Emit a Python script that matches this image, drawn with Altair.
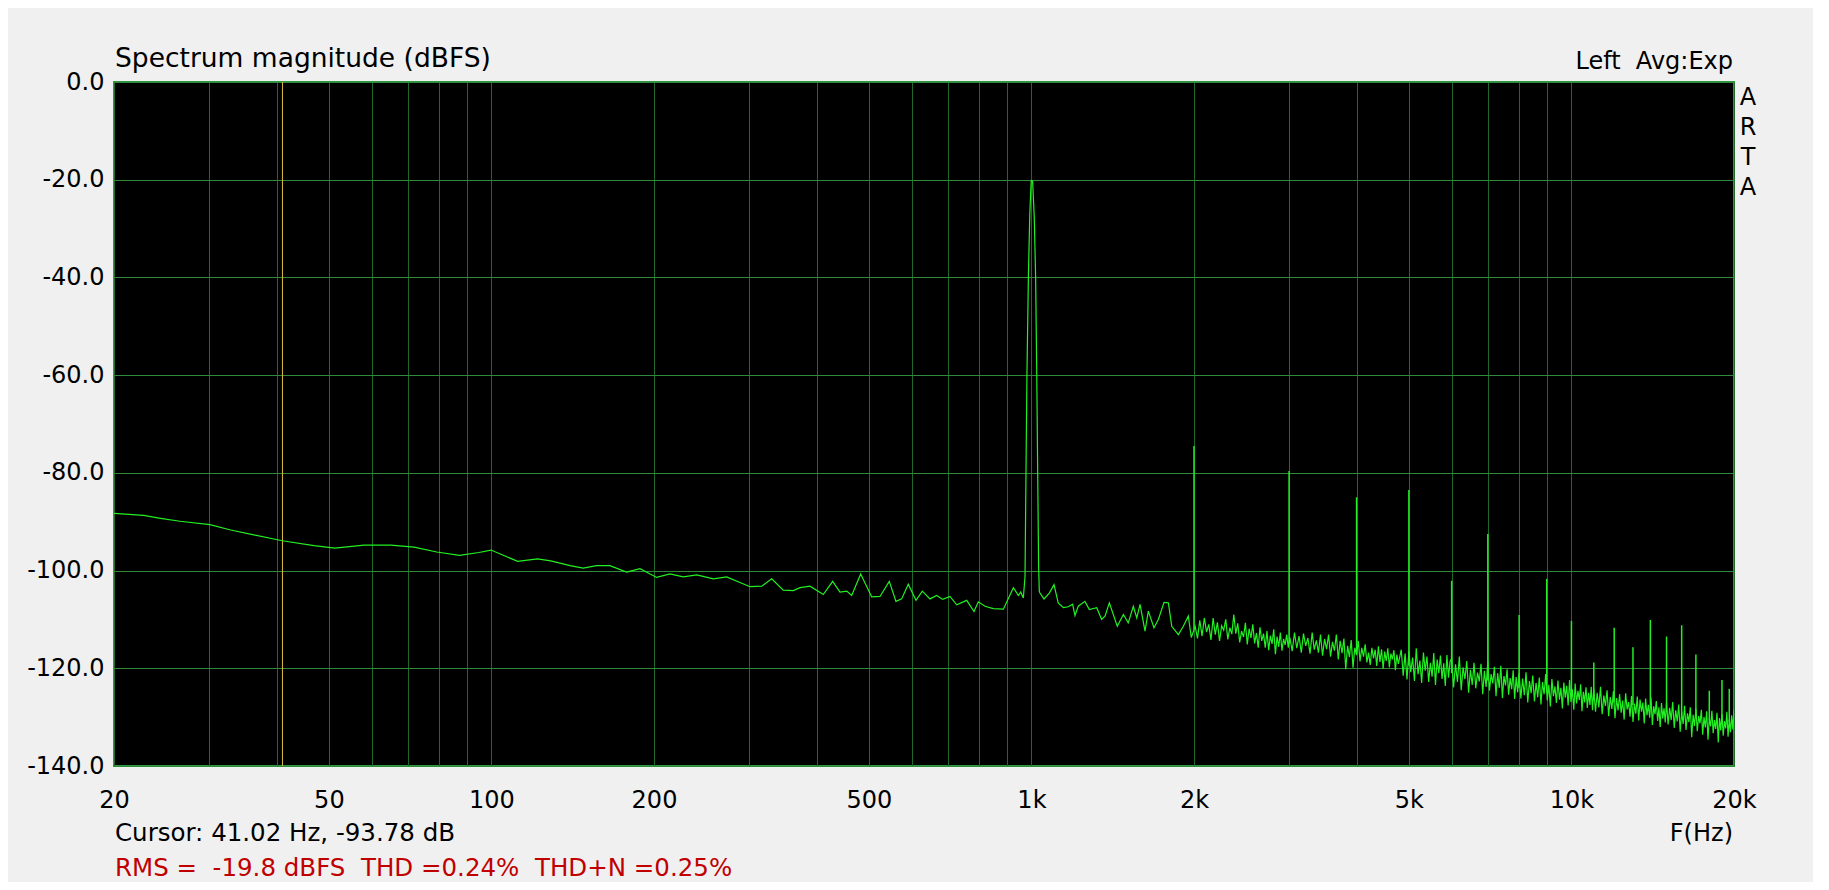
import altair as alt
import pandas as pd

# ---------------- data ----------------
# smooth low-frequency part of the spectrum (Hz, dBFS)
low_freq = [20, 22.7, 24.4, 26.5, 30.1, 32.9, 36.3, 41.0, 46.9, 51.3, 58.1, 65.1,
            71.9, 79.2, 87.3, 94.8, 99.8, 111.8, 121.7, 128.8]
low_db = [-88.3, -88.7, -89.3, -89.9, -90.6, -91.7, -92.7, -93.9, -94.9, -95.4, -94.8,
          -94.8, -95.2, -96.2, -96.9, -96.3, -95.8, -98.1, -97.6, -98.0]

# 140 Hz .. 1 kHz
mid_freq = [139.8, 147.9, 156.6, 165.7, 178.0, 188.4, 202.3, 214.1, 226.6, 240.0,
            257.6, 272.6, 301.2, 316.6, 330.4, 347.0, 362.2, 372.8, 389.0, 411.6,
            428.4, 442.0, 455.0, 464.6, 482.8, 506.0, 524.2, 545.4, 561.2, 575.0,
            591.4, 611.2, 628.0, 648.8, 667.6, 684.8, 706.4, 727.2, 758.8, 782.8,
            797.2, 820.4, 849.8, 887.2, 925.8, 945.6, 955.4, 966.0]
mid_db = [-99.0, -99.5, -99.0, -99.0, -100.3, -99.6, -101.4, -100.7, -101.3, -100.9,
          -101.7, -101.3, -103.3, -103.2, -101.7, -104.0, -104.1, -103.5, -103.2, -104.9,
          -102.2, -104.4, -104.2, -105.1, -100.7, -105.4, -105.3, -102.2, -106.3, -105.8,
          -102.8, -106.1, -104.2, -105.8, -105.1, -105.9, -105.3, -107.0, -106.1, -108.4,
          -106.4, -107.3, -107.8, -107.9, -103.5, -105.1, -104.4, -105.6]

# 1 kHz test tone
fund_freq = [973, 977, 981, 987, 993, 999, 1005, 1012, 1018, 1023, 1027, 1031, 1034, 1037]
fund_db = [-101.2, -80.0, -60.0, -40.0, -27.0, -20.2, -20.3, -27.6, -40.0, -60.0,
           -80.0, -98.9, -104.2, -104.6]

# noise floor 1 kHz .. 2 kHz
hf1_freq = [1055, 1079, 1101, 1121, 1146, 1170, 1192, 1204, 1221, 1256,
            1280, 1321, 1349, 1369, 1394, 1442, 1480, 1511, 1544, 1567,
            1589, 1623, 1646, 1686, 1718, 1760, 1793, 1819, 1871, 1911,
            1952, 1977]
hf1_db = [-105.8, -104.6, -102.9, -106.6, -107.6, -107.4, -106.9, -109.2, -107.3, -106.3,
          -108.0, -107.6, -110.0, -109.3, -106.6, -111.4, -109.0, -110.7, -107.3, -109.7,
          -106.9, -112.4, -108.3, -111.7, -110.0, -106.5, -106.6, -111.4, -113.1, -111.4,
          -109.3, -113.7]

# noise floor 2 kHz .. 4.8 kHz
hfm_freq = [
    2010, 2030, 2050, 2070, 2090, 2110, 2130, 2150, 2170, 2190, 2210, 2230, 2250, 2270,
    2290, 2310, 2330, 2350, 2370, 2390, 2410, 2430, 2450, 2470, 2490, 2510, 2530, 2550,
    2570, 2590, 2610, 2630, 2650, 2670, 2690, 2710, 2730, 2750, 2770, 2790, 2810, 2830,
    2850, 2870, 2890, 2910, 2930, 2950, 2970, 2990,
    3010, 3040, 3070, 3100, 3130, 3160, 3190, 3220, 3250, 3280, 3310, 3340, 3370, 3400,
    3430, 3460, 3490, 3520, 3550, 3580, 3610, 3640, 3670, 3700, 3730, 3760, 3790, 3820,
    3850, 3880, 3910, 3940, 3970, 4000, 4030, 4060, 4090, 4120, 4150, 4180, 4210, 4240,
    4270, 4300, 4330, 4360, 4390, 4420, 4450, 4480, 4510, 4540, 4570, 4600, 4630, 4660,
    4690, 4720, 4750, 4780]
hfm_db = [
    -111.4, -113.9, -110.2, -113.4, -109.7, -112.6, -111.0, -114.2, -109.7, -113.1,
    -110.6, -114.4, -111.3, -112.2, -110.0, -114.1, -111.7, -113.0, -109.0, -112.9,
    -110.8, -114.7, -112.4, -113.6, -110.7, -115.1, -111.9, -113.8, -111.0, -114.9,
    -112.8, -115.8, -111.6, -114.4, -112.9, -115.8, -112.4, -116.3, -113.3, -115.0,
    -112.0, -117.1, -113.5, -115.6, -112.7, -116.4, -114.0, -115.2, -113.1, -115.8,
    -113.7, -116.5, -112.7, -115.9, -113.4, -116.8, -112.9, -115.4, -113.8, -117.0,
    -112.7, -116.2, -114.3, -116.8, -113.1, -117.4, -114.0, -116.1, -113.1, -117.6,
    -114.6, -116.4, -113.1, -118.2, -114.4, -116.9, -113.9, -120.2, -115.4, -117.7,
    -114.2, -119.9, -115.8, -117.3, -114.4, -118.6, -115.8, -117.6, -115.1, -118.8,
    -116.8, -119.3, -115.8, -118.0, -116.2, -119.5, -115.5, -118.7, -116.1, -120.1,
    -116.6, -118.5, -115.9, -119.8, -117.0, -118.2, -116.3, -120.4, -117.2, -119.1]

# dense noise floor 4.8 kHz .. 20 kHz
hf2_freq = [
    4840, 4880, 4920, 4960, 5000, 5040, 5080, 5120, 5160, 5200, 5240, 5280, 5320, 5360,
    5400, 5440, 5480, 5520, 5560, 5600, 5640, 5680, 5720, 5760, 5800, 5840, 5880, 5920, 5960,
    6000, 6050, 6100, 6150, 6200, 6250, 6300, 6350, 6400, 6450, 6500, 6550, 6600, 6650,
    6700, 6750, 6800, 6850, 6900, 6950, 7000, 7050, 7100, 7150, 7200, 7250, 7300, 7350,
    7400, 7450, 7500, 7550, 7600, 7650, 7700, 7750, 7800, 7850, 7900, 7950,
    8000, 8060, 8120, 8180, 8240, 8300, 8360, 8420, 8480, 8540, 8600, 8660, 8720, 8780,
    8840, 8900, 8960, 9020, 9080, 9140, 9200, 9260, 9320, 9380, 9440, 9500, 9560, 9620,
    9680, 9740, 9800, 9860, 9920, 9980, 10040, 10100, 10160, 10220, 10280, 10340, 10400,
    10460, 10520, 10580, 10640, 10700, 10760, 10820, 10880, 10940,
    11000, 11080, 11160, 11240, 11320, 11400, 11480, 11560, 11640, 11720, 11800, 11880,
    11960, 12040, 12120, 12200, 12280, 12360, 12440, 12520, 12600, 12680, 12760, 12840,
    12920, 13000, 13080, 13160, 13240, 13320, 13400, 13480, 13560, 13640, 13720, 13800,
    13880, 13960, 14040, 14120, 14200, 14280, 14360, 14440, 14520, 14600, 14680, 14760,
    14840, 14920,
    15000, 15100, 15200, 15300, 15400, 15500, 15600, 15700, 15800, 15900, 16000, 16100,
    16200, 16300, 16400, 16500, 16600, 16700, 16800, 16900, 17000, 17100, 17200, 17300,
    17400, 17500, 17600, 17700, 17800, 17900, 18000, 18100, 18200, 18300, 18400, 18500,
    18600, 18700, 18800, 18900, 19000, 19100, 19200, 19300, 19400, 19500, 19600, 19700,
    19800, 19900, 20000]
hf2_db = [
    -116.2, -121.5, -117.0, -122.3, -116.5, -120.8, -117.8, -122.6, -115.9, -121.2,
    -118.4, -123.0, -116.8, -120.5, -117.6, -122.8, -118.9, -121.7, -116.9, -123.4,
    -118.2, -121.0, -117.4, -122.2, -119.0, -123.6, -117.3, -121.9, -118.6,
    -118.0, -123.9, -119.2, -122.8, -117.6, -124.5, -119.8, -122.2, -118.5, -125.0,
    -120.3, -123.4, -118.9, -124.1, -120.9, -122.7, -119.1, -125.3, -120.5, -123.8,
    -118.6, -124.6, -121.2, -123.1, -119.7, -125.7, -121.0, -124.0, -119.5, -126.1,
    -121.6, -123.5, -120.2, -125.4, -122.0, -124.3, -120.4, -126.3, -121.8, -124.9,
    -121.0, -126.2, -122.1, -125.5, -120.8, -127.0, -122.6, -125.1, -121.5, -126.8,
    -123.0, -125.9, -121.9, -127.4, -122.8, -125.3, -121.2, -126.6, -123.4, -127.8,
    -122.2, -125.7, -123.7, -127.1, -122.5, -126.4, -124.0, -128.2, -122.9, -126.0,
    -123.6, -127.6, -122.4, -126.9, -124.3, -128.5, -123.1, -127.2, -124.6, -126.5,
    -123.3, -128.8, -124.8, -127.0, -123.9, -128.1, -125.0, -127.5, -123.8, -128.6,
    -124.2, -128.9, -125.0, -128.0, -123.8, -129.4, -125.6, -127.7, -124.5, -129.8,
    -125.9, -128.3, -124.7, -130.2, -126.1, -128.6, -125.3, -129.1, -126.6, -130.5,
    -125.1, -128.4, -126.9, -129.9, -125.7, -131.0, -127.2, -129.3, -125.8, -130.7,
    -126.4, -128.9, -127.0, -131.3, -126.2, -129.6, -127.5, -130.1, -126.0, -131.6,
    -127.8, -129.4, -126.7, -130.8, -128.0, -132.0, -127.1, -130.3, -128.2, -131.1,
    -127.0, -131.5, -128.1, -130.6, -126.9, -132.2, -128.6, -130.9, -127.4, -133.0,
    -128.9, -131.4, -127.7, -132.6, -129.2, -131.0, -128.0, -134.1, -129.5, -131.8,
    -128.3, -132.9, -129.8, -131.3, -128.5, -133.6, -130.0, -132.1, -128.8, -134.6,
    -130.3, -131.9, -128.7, -133.3, -130.6, -132.4, -129.1, -135.2, -130.2, -132.7,
    -129.4, -133.8, -130.8, -132.3, -128.9, -134.0, -130.5, -133.1, -129.6, -132.5,
    -128.4]

# harmonic / spurious spikes
harm_freq = [2000, 3000, 4000, 5000, 6000, 7000, 8000, 9000, 10000, 11000, 12000,
             13000, 14000, 15000, 16000, 17000, 18000, 19000, 19600]
harm_peak = [-74.5, -79.6, -85.0, -83.5, -102.1, -92.5, -109.1, -101.7, -110.3, -118.8,
             -111.7, -115.7, -110.1, -113.5, -111.2, -117.2, -124.6, -122.4, -124.2]
harm_base = [-112.0, -115.0, -117.0, -119.5, -121.0, -122.5, -124.0, -125.0, -125.5,
             -126.5, -127.0, -127.5, -128.0, -129.0, -129.5, -130.0, -130.5, -131.0, -131.0]

cursor_freq = [41.02]

grid_freq = [20, 30, 40, 50, 60, 70, 80, 90, 100, 200, 300, 400, 500, 600, 700, 800, 900,
             1000, 2000, 3000, 4000, 5000, 6000, 7000, 8000, 9000, 10000, 20000]
label_freq = [20, 50, 100, 200, 500, 1000, 2000, 5000, 10000, 20000]
y_ticks = [0, -20, -40, -60, -80, -100, -120, -140]

TITLE = "Spectrum magnitude (dBFS)"
CHANNEL = "Left\u00a0\u00a0Avg:Exp"
BRAND = "A\nR\nT\nA"
CURSOR = "Cursor: 41.02 Hz, -93.78 dB"
FAXIS = "F(Hz)"
STATS = "RMS =\u00a0\u00a0-19.8 dBFS\u00a0\u00a0THD =0.24%\u00a0\u00a0THD+N =0.25%"

# ---------------- tables ----------------
spec = pd.DataFrame({
    "freq": low_freq + mid_freq + fund_freq + hf1_freq + hfm_freq + hf2_freq,
    "db": low_db + mid_db + fund_db + hf1_db + hfm_db + hf2_db,
})
harm = pd.DataFrame({"freq": harm_freq, "db": harm_peak, "base": harm_base})
cur = pd.DataFrame({"freq": cursor_freq})

FONT = "DejaVu Sans"
GREEN = "#22f022"

label_list = ",".join(str(v) for v in label_freq)
x_axis = alt.Axis(
    values=grid_freq, title=None, grid=True, gridColor="#1f6a2b", gridWidth=1,
    ticks=False, domain=False, labelFont=FONT, labelFontSize=24, labelColor="black",
    labelPadding=22, labelFlush=False, labelOverlap=False,
    labelExpr=f"indexof([{label_list}], datum.value) >= 0 ? "
              "(datum.value >= 1000 ? (datum.value / 1000) + 'k' : datum.value + '') : ''",
)
y_axis = alt.Axis(
    values=y_ticks, title=None, grid=True, gridColor="#2e8b3c", gridWidth=1,
    ticks=False, domain=False, labelFont=FONT, labelFontSize=24, labelColor="black",
    labelPadding=10, labelFlush=False, labelOverlap=False,
    labelExpr="datum.value + '.0'",
)
x_scale = alt.Scale(type="log", domain=[20, 20000], nice=False)
y_scale = alt.Scale(domain=[-140, 0], nice=False, zero=False)

X = alt.X("freq:Q", scale=x_scale, axis=x_axis)
Y = alt.Y("db:Q", scale=y_scale, axis=y_axis)

line = alt.Chart(spec).mark_line(color=GREEN, strokeWidth=1.2, clip=True).encode(
    x=X, y=Y, order="freq:Q")
spikes = alt.Chart(harm).mark_rule(color=GREEN, strokeWidth=1.5, clip=True).encode(
    x=X, y=Y, y2="base:Q")
cursor = alt.Chart(cur).mark_rule(color="#d8c040", strokeWidth=1).encode(x=X)


def label(text, x, y, align="left", baseline="alphabetic", size=24, color="black", **kw):
    return alt.Chart(pd.DataFrame({"t": [text]})).mark_text(
        align=align, baseline=baseline, font=FONT, fontSize=size, color=color, **kw
    ).encode(text="t:N", x=alt.value(x), y=alt.value(y))


title = label(TITLE, 1, -15, size=26.5)
channel = label(CHANNEL, 1619, -13, align="right")
brand = label(BRAND, 1634, 4, align="center", baseline="top", lineBreak="\n", lineHeight=30)
cursor_txt = label(CURSOR, 1, 759, size=24.5)
faxis = label(FAXIS, 1619, 759, align="right")
stats = label(STATS, 1, 794, size=24.5, color="#c00000")

chart = alt.layer(cursor, line, spikes, title, channel, brand, cursor_txt, faxis, stats).properties(
    width=1620, height=684,
    padding={"left": 106, "top": 74, "right": 79, "bottom": 116},
    autosize=alt.AutoSizeParams(type="none"),
).configure(background="#f0f0f0").configure_view(
    fill="black", stroke="#2e9a40", strokeWidth=2
)

chart.save("out.html", embed_options={"renderer": "svg", "actions": False})
